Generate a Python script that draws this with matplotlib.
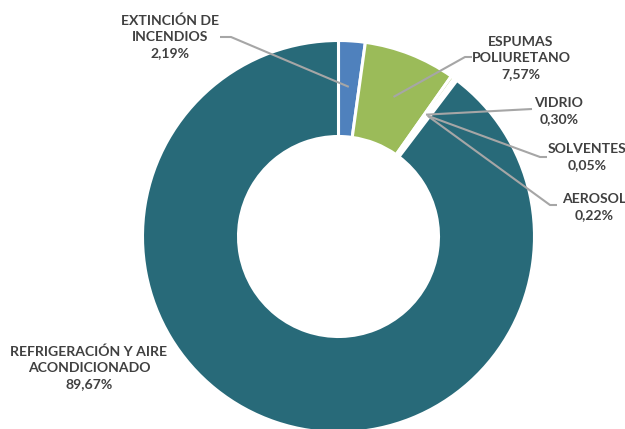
import numpy as np
import matplotlib.pyplot as plt

W, H = 625, 429

categorias = ['EXTINCIÓN DE\nINCENDIOS', 'ESPUMAS\nPOLIURETANO', 'VIDRIO',
              'SOLVENTES', 'AEROSOL', 'REFRIGERACIÓN Y AIRE\nACONDICIONADO']
porcentajes = [2.19, 7.57, 0.30, 0.05, 0.22, 89.67]
colores = ['#4F81BD', '#9BBB59', '#C3D69B', '#DCE6C8', '#D9E4EC', '#286A79']

# posicion del texto (px) y codo de la linea guia (None = sin linea)
pos_texto = [(170, 37), (521, 58), (559, 111), (587, 157), (594, 207), (89, 368)]
codos = [(231, 37), (465, 57), (532, 109), (540, 157), (550, 205), None]
fines = [(220, 37), (472, 57), (532, 109), (547, 157), (557, 205), None]

cx, cy, R, Rin = 338.5, 236.5, 196, 100

def fy(y):
    return H - y

fig = plt.figure(figsize=(W / 100, H / 100), dpi=100)
ax = fig.add_axes([0, 0, 1, 1])

ax.pie(porcentajes, colors=colores, startangle=90, counterclock=False,
       center=(cx, fy(cy)), radius=R, frame=True,
       wedgeprops=dict(width=R - Rin, edgecolor='white', linewidth=2.2))
ax.set_xlim(0, W)
ax.set_ylim(0, H)
ax.set_aspect('equal')
ax.axis('off')

acum = np.cumsum([0] + porcentajes)
r_anc = 150
for i, (cat, val) in enumerate(zip(categorias, porcentajes)):
    etiqueta = cat + '\n' + f'{val:.2f}'.replace('.', ',') + '%'
    tx, ty = pos_texto[i]
    ax.text(tx, fy(ty), etiqueta, ha='center', va='center', fontsize=10.1,
            fontweight='bold', color='#404040', family='Lato', linespacing=1.42)
    if codos[i] is None:
        continue
    ang = np.deg2rad((acum[i] + val / 2) * 3.6)
    ax_ = cx + r_anc * np.sin(ang)
    ay_ = cy - r_anc * np.cos(ang)
    xs = [ax_, codos[i][0], fines[i][0]]
    ys = [fy(ay_), fy(codos[i][1]), fy(fines[i][1])]
    ax.plot(xs, ys, color='#A6A6A6', lw=1.5, solid_capstyle='butt')

fig.savefig('out.png', dpi=100)
